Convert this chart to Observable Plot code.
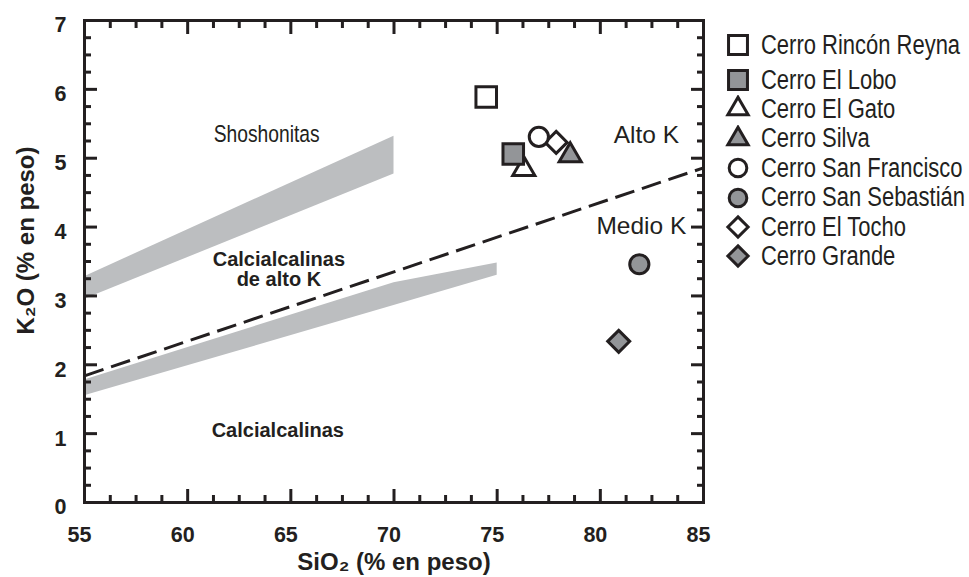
<!DOCTYPE html>
<html><head><meta charset="utf-8">
<script src="https://cdn.jsdelivr.net/npm/d3@7"></script>
<script src="https://cdn.jsdelivr.net/npm/@observablehq/plot@0.6"></script>
<style>
body{margin:0;background:#fff;}
#wrap{position:relative;width:969px;height:577px;overflow:hidden;}
#legend{position:absolute;left:724px;top:0;font-family:"Liberation Sans",Arial,sans-serif;color:#231f20;font-size:26.8px;}
.row{position:absolute;left:0;height:30px;display:flex;align-items:center;white-space:nowrap;}
.row svg{flex:none;margin-right:9px;}
.row span{display:inline-block;transform:scaleX(0.82);transform-origin:left center;}
</style></head><body><div id="wrap"></div>
<script>
// ---- data ----
const sites = ["Cerro Rincón Reyna","Cerro El Lobo","Cerro El Gato","Cerro Silva","Cerro San Francisco","Cerro San Sebastián","Cerro El Tocho","Cerro Grande"];
const sio2  = [74.47, 75.78, 76.29, 78.54, 77.02, 81.89, 77.86, 80.89];
const k2o   = [5.89, 5.06, 4.84, 5.04, 5.31, 3.46, 5.23, 2.34];
const shape = ["square","square","triangle","triangle","circle","circle","diamond2","diamond2"];
const fillType = ["abierto","relleno","abierto","relleno","abierto","relleno","abierto","relleno"];

// field boundaries (SiO2, K2O lower edge, K2O upper edge)
const shoX  = [55, 70];
const shoLo = [2.95, 4.77];
const shoHi = [3.28, 5.32];
const caX   = [55, 70, 75];
const caLo  = [1.55, 2.86, 3.30];
const caHi  = [1.78, 3.19, 3.48];
const divX  = [55, 85];
const divY  = [1.84, 4.86];

const regionText = ["Shoshonitas","Calcialcalinas\nde alto K","Calcialcalinas","Alto K","Medio K"];
const regionX    = [63.83, 64.42, 64.37, 82.23, 81.99];
const regionY    = [5.35, 3.38, 1.05, 5.34, 4.02];
const regionBold = [false, true, true, false, false];
const regionSize = [23.5, 20, 20, 24.5, 24.5];
const condensed  = ["Shoshonitas"];

const xMajor = [55,60,65,70,75,80,85];
const xMinor = d3.range(55, 85.001, 1.25).filter(v => v % 5 !== 0);
const yMajor = [0,1,2,3,4,5,6,7];
const yMinor = d3.range(0, 7.001, 0.25).filter(v => v % 1 !== 0);

// ---- styles ----
const INK = "#231f20", GRAY = "#939598", BAND = "#bcbec0";
const R = {square: 11.6, triangle: 8.2, circle: 9.6, diamond2: 9.9};
const FONT = '"Liberation Sans",Arial,sans-serif';

const pts = sites.map((s,i)=>({site:s, sio2:sio2[i], k2o:k2o[i], shape:shape[i], fillType:fillType[i]}));
const sho = shoX.map((x,i)=>({x, lo:shoLo[i], hi:shoHi[i]}));
const ca  = caX.map((x,i)=>({x, lo:caLo[i], hi:caHi[i]}));
const div = divX.map((x,i)=>({x, y:divY[i]}));
const regions = regionText.map((t,i)=>({t, x:regionX[i], y:regionY[i], b:regionBold[i], s:regionSize[i]}));

const dotsFor = (sh) => Plot.dot(pts.filter(d=>d.shape===sh), {
  x:"sio2", y:"k2o", symbol: sh, r: R[sh], fill:"fillType", stroke: INK, strokeWidth: 3, strokeLinejoin:"miter"
});
const tickStyle = {stroke: INK, strokeWidth: 3, tickFormat: () => "", label: null};
const fmt = d3.format("d");

const chart = Plot.plot({
  width: 969, height: 577,
  marginLeft: 84, marginRight: 266, marginTop: 20, marginBottom: 75,
  x: {domain:[55,85], label:null},
  y: {domain:[0,7], label:null},
  color: {domain:["abierto","relleno"], range:["white", GRAY]},
  style: {fontFamily: FONT, color: INK, background: "white", overflow: "visible"},
  marks: [
    Plot.area(sho, {x1:"x", y1:"lo", y2:"hi", fill: BAND}),
    Plot.area(ca,  {x1:"x", y1:"lo", y2:"hi", fill: BAND}),
    Plot.line(div, {x:"x", y:"y", stroke: INK, strokeWidth: 3, strokeDasharray:"20,8", strokeLinecap:"butt"}),
    Plot.text(regions.filter(d=>!d.b), {x:"x", y:"y", text:"t", fontSize: d=>d.s, fill: INK}),
    Plot.text(regions.filter(d=>d.b), {x:"x", y:"y", text:"t", fontSize: 20, fontWeight:"bold", fill: INK, lineHeight: 1.0}),
    // ticks (inward) on all four sides
    Plot.axisX(xMinor, {anchor:"bottom", tickSize:-7, ...tickStyle}),
    Plot.axisX(xMajor, {anchor:"bottom", tickSize:-13, ...tickStyle}),
    Plot.axisX(xMinor, {anchor:"top", tickSize:-7, ...tickStyle}),
    Plot.axisX(xMajor, {anchor:"top", tickSize:-13, ...tickStyle}),
    Plot.axisY(yMinor, {anchor:"left", tickSize:-7, ...tickStyle}),
    Plot.axisY(yMajor, {anchor:"left", tickSize:-13, ...tickStyle}),
    Plot.axisY(yMinor, {anchor:"right", tickSize:-7, ...tickStyle}),
    Plot.axisY(yMajor, {anchor:"right", tickSize:-13, ...tickStyle}),
    // labels
    Plot.axisX(xMajor, {anchor:"bottom", tickSize:0, tickPadding:24, dx:-5, tickFormat: fmt, fontSize:21.5, fontWeight:"bold", label:null}),
    Plot.axisY(yMajor, {anchor:"left", tickSize:0, tickPadding:18, dy:5, tickFormat: fmt, fontSize:21.5, fontWeight:"bold", label:null}),
    Plot.frame({stroke: INK, strokeWidth: 3}),
    Plot.text(["SiO₂ (% en peso)"], {frameAnchor:"bottom", lineAnchor:"middle", textAnchor:"middle", dy:60, fontSize:24, fontWeight:"bold", fill: INK}),
    Plot.text(["K₂O (% en peso)"], {frameAnchor:"left", lineAnchor:"middle", textAnchor:"middle", rotate:-90, dx:-58, dy:-21, fontSize:24, fontWeight:"bold", fill: INK}),
    dotsFor("diamond2"),
    dotsFor("circle"),
    dotsFor("triangle"),
    dotsFor("square")
  ]
});

// condensed look for the "Shoshonitas" annotation
d3.select(chart).selectAll("text").filter(function() {
  return condensed.includes(this.textContent);
}).each(function() {
  const t = this.getAttribute("transform");
  if (t) this.setAttribute("transform", t + " scale(0.82,1)");
  else {
    const x = +this.getAttribute("x") || 0, y = +this.getAttribute("y") || 0;
    this.removeAttribute("x"); this.removeAttribute("y");
    this.setAttribute("transform", `translate(${x},${y}) scale(0.82,1)`);
  }
});

const wrap = document.getElementById("wrap");
wrap.appendChild(chart);

// ---- legend ----
const legend = document.createElement("div");
legend.id = "legend";
const symMap = {square: d3.symbolSquare, triangle: d3.symbolTriangle, circle: d3.symbolCircle, diamond2: d3.symbolDiamond2};
sites.forEach((s,i) => {
  const row = document.createElement("div");
  row.className = "row";
  const cy = i === 0 ? 45 : 80 + (i-1)*29.4;
  row.style.top = (cy - 15) + "px";
  const svg = d3.create("svg").attr("width",28).attr("height",28);
  const rr = R[shape[i]] * 0.92;
  svg.append("path")
    .attr("transform","translate(14,14)")
    .attr("d", d3.symbol(symMap[shape[i]], Math.PI*rr*rr)())
    .attr("fill", fillType[i]==="relleno" ? GRAY : "white")
    .attr("stroke", INK).attr("stroke-width", 3).attr("stroke-linejoin","miter");
  row.appendChild(svg.node());
  const span = document.createElement("span");
  span.textContent = s;
  row.appendChild(span);
  legend.appendChild(row);
});
wrap.appendChild(legend);
</script>
</body></html>
